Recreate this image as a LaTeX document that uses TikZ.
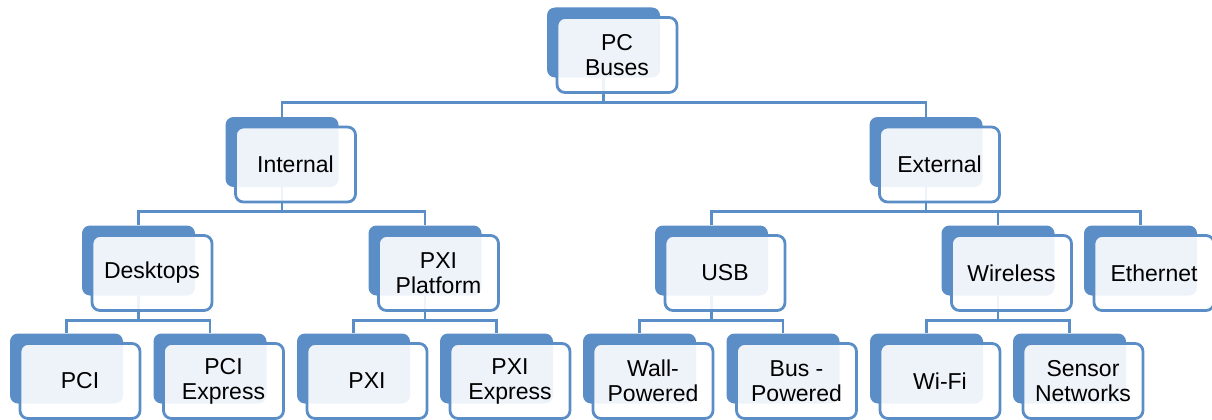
\documentclass[tikz,border=0pt]{standalone}
\usepackage{fontspec}
\setmainfont{Liberation Sans}
\definecolor{accent}{RGB}{91,142,199}
\begin{document}
\begin{tikzpicture}[x=1pt,y=-1pt,
  backbox/.style={rectangle, rounded corners=8pt, fill=accent, minimum width=113pt, minimum height=70pt, inner sep=0pt},
  frontbox/.style={rectangle, rounded corners=8pt, draw=accent, line width=2.8pt, fill=white, fill opacity=0.9, text opacity=1, minimum width=120pt, minimum height=75pt, inner sep=0pt, align=center, font=\fontsize{23}{25}\selectfont},
  link/.style={draw=accent, line width=2.8pt}]
\useasboundingbox (0,0) rectangle (1212,420);
% back boxes (front centre minus (13.5,12.5))
\node[backbox] (pcb)   at (603.5,42.5) {};
\node[backbox] (intb)  at (282,152) {};
\node[backbox] (extb)  at (926,152) {};
\node[backbox] (deskb) at (138.5,260.5) {};
\node[backbox] (pxipb) at (425,260.5) {};
\node[backbox] (usbb)  at (711.5,260.5) {};
\node[backbox] (wirb)  at (998,260.5) {};
\node[backbox] (ethb)  at (1140.5,260.5) {};
\node[backbox] (pcib)  at (66.5,368.5) {};
\node[backbox] (pcieb) at (210,368.5) {};
\node[backbox] (pxib)  at (353.5,368.5) {};
\node[backbox] (pxieb) at (496.5,368.5) {};
\node[backbox] (wallb) at (639.5,368.5) {};
\node[backbox] (busb)  at (783,368.5) {};
\node[backbox] (wifib) at (926.5,368.5) {};
\node[backbox] (senb)  at (1069.5,368.5) {};
% connectors
\foreach \p/\c in {pcb/intb, pcb/extb, intb/deskb, intb/pxipb, extb/usbb, extb/wirb, extb/ethb,
  deskb/pcib, deskb/pcieb, pxipb/pxib, pxipb/pxieb, usbb/wallb, usbb/busb, wirb/wifib, wirb/senb}
  \draw[link] (\p.south) -- ++(0,24.5) -| (\c.north);
% front boxes
\node[frontbox] (pc)   at (617,55) {PC\\Buses};
\node[frontbox] (int)  at (295.5,164.5) {Internal};
\node[frontbox] (ext)  at (939.5,164.5) {External};
\node[frontbox] (desk) at (152,273) {Desktops};
\node[frontbox] (pxip) at (438.5,273) {PXI\\Platform};
\node[frontbox] (usb)  at (725,273) {USB};
\node[frontbox] (wir)  at (1011.5,273) {Wireless};
\node[frontbox] (eth)  at (1154,273) {Ethernet};
\node[frontbox] (pci)  at (80,381) {PCI};
\node[frontbox] (pcie) at (223.5,381) {PCI\\Express};
\node[frontbox] (pxi)  at (367,381) {PXI};
\node[frontbox] (pxie) at (510,381) {PXI\\Express};
\node[frontbox] (wall) at (653,381) {Wall-\\Powered};
\node[frontbox] (bus)  at (796.5,381) {Bus -\\Powered};
\node[frontbox] (wifi) at (940,381) {Wi-Fi};
\node[frontbox] (sen)  at (1083,381) {Sensor\\Networks};
\end{tikzpicture}
\end{document}
